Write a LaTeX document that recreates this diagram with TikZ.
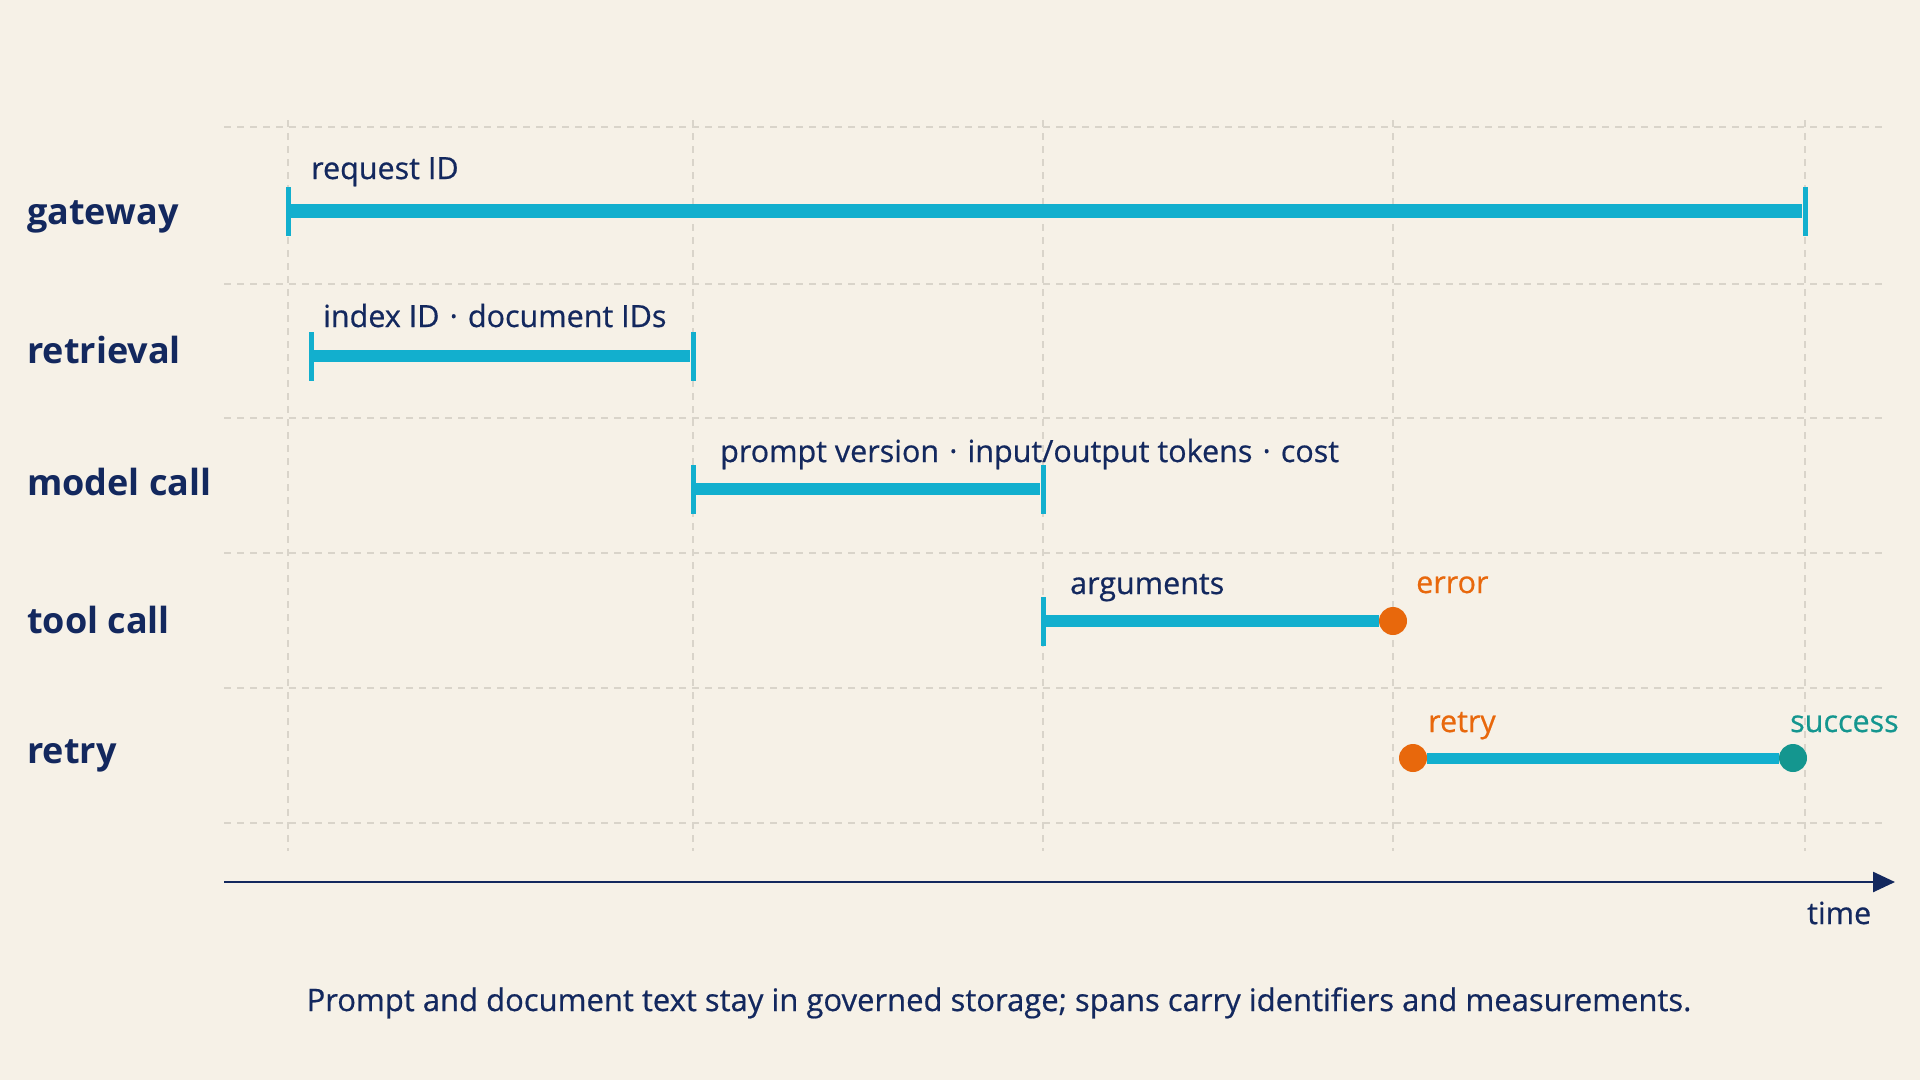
\documentclass[tikz,border=0pt]{standalone}
\usepackage{fontspec}
\setmainfont{Open Sans}
\newfontfamily\attrfont{Open Sans}[FakeBold=0.6]
\usetikzlibrary{arrows.meta}
\definecolor{bgcream}{HTML}{F6F1E7}
\definecolor{navy}{HTML}{13285E}
\definecolor{spancyan}{HTML}{12AFCE}
\definecolor{errorange}{HTML}{E8680C}
\definecolor{okteal}{HTML}{14968F}
\definecolor{gridgray}{HTML}{D9D4CA}

\begin{document}
\begin{tikzpicture}[x=1pt,y=-1pt,
  gridline/.style={gridgray,line width=1.5pt,dash pattern=on 7pt off 6pt},
  span/.style={spancyan,line width=12pt},
  spantick/.style={rectangle,fill=spancyan,minimum width=5pt,minimum height=49pt,inner sep=0pt},
  spandot/.style={circle,fill=#1,minimum size=28pt,inner sep=0pt},
  lane/.style={anchor=base west,inner sep=0pt,text=navy,font=\fontsize{36}{44}\selectfont\bfseries},
  attr/.style={anchor=base west,inner sep=0pt,text=navy,font=\fontsize{30.5}{36}\attrfont}]
  \fill[bgcream] (0,0) rectangle (1920,1080);
  \useasboundingbox (0,0) rectangle (1920,1080);
  \foreach \y in {127,284,418,553,688,823}
    \draw[gridline] (224,\y) -- (1883,\y);
  \foreach \x in {288,693,1043,1393,1805}
    \draw[gridline] (\x,120) -- (\x,851);

  \node[lane] (l-gw) at (27,224) {gateway};
  \node[lane] (l-rv) at (27,363) {retrieval};
  \node[lane] (l-mc) at (27,495) {model call};
  \node[lane] (l-tc) at (27,633) {tool call};
  \node[lane] (l-rt) at (27,763) {retry};

  \node[spantick] (gw-s) at (288,211) {};
  \node[spantick] (gw-e) at (1805,211) {};
  \draw[span,line width=14pt] (gw-s) -- (gw-e);
  \node[attr] (a-gw) at (311,179) {request ID};

  \node[spantick] (rv-s) at (311,356) {};
  \node[spantick] (rv-e) at (693,356) {};
  \draw[span] (rv-s) -- (rv-e);
  \node[attr] (a-rv) at (323,327) {index ID\,\,·\,\,document IDs};

  \node[spantick] (mc-s) at (693,489) {};
  \node[spantick] (mc-e) at (1043,489) {};
  \draw[span] (mc-s) -- (mc-e);
  \node[attr] (a-mc) at (720,462) {prompt version\,\,·\,\,input/output tokens\,\,·\,\,cost};

  \node[spantick] (tc-s) at (1043,621) {};
  \node[spandot=errorange] (tc-e) at (1393,621) {};
  \draw[span] (tc-s) -- (tc-e);
  \node[attr] (a-tc) at (1070,594) {arguments};
  \node[attr,text=errorange] (err) at (1416,593) {error};

  \node[spandot=errorange] (rt-s) at (1413,758) {};
  \node[spandot=okteal] (rt-e) at (1793,758) {};
  \draw[span,line width=11pt] (rt-s) -- (rt-e);
  \node[attr,text=errorange] (rty) at (1428,732) {retry};
  \node[attr,text=okteal] (ok) at (1790,732) {success};

  \coordinate (t0) at (224,882);
  \coordinate (t1) at (1895,882);
  \draw[navy,line width=2.5pt,-{Triangle[length=22pt,width=20pt]}] (t0) -- (t1);
  \node[attr] (time) at (1807,924) {time};

  \node[anchor=base,inner sep=0pt,text=navy,font=\fontsize{31}{36}\attrfont] (cap) at (999,1011)
    {Prompt and document text stay in governed storage; spans carry identifiers and measurements.};
\end{tikzpicture}
\end{document}
